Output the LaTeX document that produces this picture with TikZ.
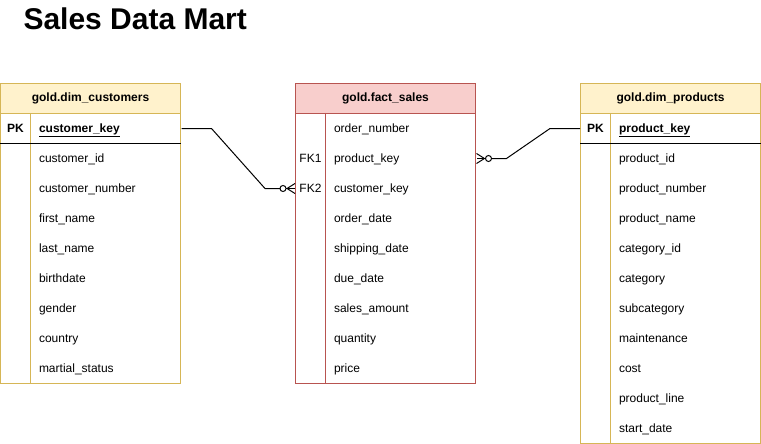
\documentclass[tikz,border=0pt]{standalone}
\usepackage{fontspec}
\setmainfont{Liberation Sans}
\usepackage{tikz}
\usetikzlibrary{calc}
\definecolor{dimfill}{HTML}{FFF2CC}
\definecolor{dimline}{HTML}{D6B656}
\definecolor{factfill}{HTML}{F8CECC}
\definecolor{factline}{HTML}{B85450}

\begin{document}
\begin{tikzpicture}[x=1pt, y=-1pt, line width=1pt,
hdr/.style={draw, minimum width=180pt, minimum height=30pt, inner sep=0pt,
font=\fontsize{12}{14}\selectfont\bfseries},
tbl/.style={draw, fill=white, minimum width=180pt, inner sep=0pt},
fld/.style={anchor=west, text width=142pt, align=left, inner sep=0pt,
text height=9pt, text depth=2pt, font=\fontsize{12}{14}\selectfont},
pkf/.style={fld, font=\fontsize{12}{14}\selectfont\bfseries},
key/.style={minimum width=30pt, inner sep=0pt, text height=9pt, text depth=2pt,
font=\fontsize{12}{14}\selectfont},
link/.style={draw=black, line width=1pt}
]
\useasboundingbox (0,0) rectangle (761,444);

\node[anchor=base west, inner sep=0pt, font=\fontsize{30}{36}\selectfont\bfseries]
(title) at (23,29.5) {Sales Data Mart};

% gold.dim_customers
\node[tbl, draw=dimline, minimum height=270pt] (cubody) at (90.5,248.5) {};
\node[hdr, fill=dimfill, draw=dimline] (cuhead) at (90.5,98.5) {gold.dim\_customers};
\draw[dimline] ($(cubody.north west)+(30,0)$) -- ($(cubody.south west)+(30,0)$);
\draw ($(cubody.north west)+(0,30)$) -- ($(cubody.north east)+(0,30)$);
\node[key, font=\fontsize{12}{14}\selectfont\bfseries] (cupk) at (15.5,128.5) {PK};
\node[pkf] (cu0) at (38.5,128.5) {\underline{customer\_key}};
\node[fld] (cu1) at (38.5,158.5) {customer\_id};
\node[fld] (cu2) at (38.5,188.5) {customer\_number};
\node[fld] (cu3) at (38.5,218.5) {first\_name};
\node[fld] (cu4) at (38.5,248.5) {last\_name};
\node[fld] (cu5) at (38.5,278.5) {birthdate};
\node[fld] (cu6) at (38.5,308.5) {gender};
\node[fld] (cu7) at (38.5,338.5) {country};
\node[fld] (cu8) at (38.5,368.5) {martial\_status};

% gold.fact_sales
\node[tbl, draw=factline, minimum height=270pt] (fsbody) at (385.5,248.5) {};
\node[hdr, fill=factfill, draw=factline] (fshead) at (385.5,98.5) {gold.fact\_sales};
\draw[factline] ($(fsbody.north west)+(30,0)$) -- ($(fsbody.south west)+(30,0)$);
\node[key] (fsk1) at (310.5,158.5) {FK1};
\node[key] (fsk2) at (310.5,188.5) {FK2};
\node[fld] (fs1) at (333.5,128.5) {order\_number};
\node[fld] (fs2) at (333.5,158.5) {product\_key};
\node[fld] (fs3) at (333.5,188.5) {customer\_key};
\node[fld] (fs4) at (333.5,218.5) {order\_date};
\node[fld] (fs5) at (333.5,248.5) {shipping\_date};
\node[fld] (fs6) at (333.5,278.5) {due\_date};
\node[fld] (fs7) at (333.5,308.5) {sales\_amount};
\node[fld] (fs8) at (333.5,338.5) {quantity};
\node[fld] (fs9) at (333.5,368.5) {price};

% gold.dim_products
\node[tbl, draw=dimline, minimum height=330pt] (pdbody) at (670.5,278.5) {};
\node[hdr, fill=dimfill, draw=dimline] (pdhead) at (670.5,98.5) {gold.dim\_products};
\draw[dimline] ($(pdbody.north west)+(30,0)$) -- ($(pdbody.south west)+(30,0)$);
\draw ($(pdbody.north west)+(0,30)$) -- ($(pdbody.north east)+(0,30)$);
\node[key, font=\fontsize{12}{14}\selectfont\bfseries] (pdpk) at (595.5,128.5) {PK};
\node[pkf] (pd0) at (618.5,128.5) {\underline{product\_key}};
\node[fld] (pd1) at (618.5,158.5) {product\_id};
\node[fld] (pd2) at (618.5,188.5) {product\_number};
\node[fld] (pd3) at (618.5,218.5) {product\_name};
\node[fld] (pd4) at (618.5,248.5) {category\_id};
\node[fld] (pd5) at (618.5,278.5) {category};
\node[fld] (pd6) at (618.5,308.5) {subcategory};
\node[fld] (pd7) at (618.5,338.5) {maintenance};
\node[fld] (pd8) at (618.5,368.5) {cost};
\node[fld] (pd9) at (618.5,398.5) {product\_line};
\node[fld] (pd10) at (618.5,428.5) {start\_date};

% customer_key -> FK2 (zero or many)
\draw[link] (cu0.east) -- ++(30,0) -- ($(fsk2.west)+(-30,0)$) -- ($(fsk2.west)+(-15,0)$);
\draw[link] ($(fsk2.west)+(-12,0)$) circle (3pt);
\draw[link] ($(fsk2.west)+(0,-5)$) -- ($(fsk2.west)+(-8,0)$) -- ($(fsk2.west)+(0,5)$);
\draw[link] ($(fsk2.west)+(-9,0)$) -- (fsk2.west);

% product_key -> FK1 (zero or many)
\draw[link] (pdpk.west) -- ++(-30,0) -- ($(fs2.east)+(30,0)$) -- ($(fs2.east)+(15,0)$);
\draw[link] ($(fs2.east)+(12,0)$) circle (3pt);
\draw[link] ($(fs2.east)+(0,-5)$) -- ($(fs2.east)+(8,0)$) -- ($(fs2.east)+(0,5)$);
\draw[link] ($(fs2.east)+(9,0)$) -- (fs2.east);

\end{tikzpicture}
\end{document}
